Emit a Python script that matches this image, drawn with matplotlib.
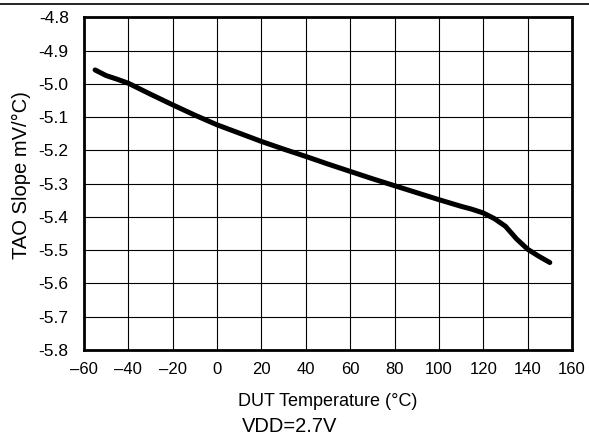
import matplotlib
matplotlib.use("Agg")
import matplotlib.pyplot as plt
from matplotlib.lines import Line2D

plt.rcParams['font.family'] = ['Liberation Sans', 'DejaVu Sans']

temp = [-55, -50, -45, -40, -30, -20, -10, 0, 10, 20, 30, 40, 50, 60, 70, 80,
        90, 100, 110, 115, 120, 125, 130, 135, 140, 145, 150]
slope = [-4.958, -4.975, -4.986, -4.998, -5.031, -5.063, -5.094, -5.123, -5.148,
         -5.173, -5.196, -5.218, -5.241, -5.263, -5.285, -5.306, -5.327, -5.348,
         -5.368, -5.377, -5.388, -5.405, -5.428, -5.466, -5.497, -5.518, -5.537]

xticks = [-60, -40, -20, 0, 20, 40, 60, 80, 100, 120, 140, 160]
xticklabels = ['\u201360', '\u201340', '\u201320', '0', '20', '40', '60', '80',
               '100', '120', '140', '160']
yticks = [-4.8, -4.9, -5.0, -5.1, -5.2, -5.3, -5.4, -5.5, -5.6, -5.7, -5.8]
yticklabels = ['-4.8', '-4.9', '-5.0', '-5.1', '-5.2', '-5.3', '-5.4', '-5.5',
               '-5.6', '-5.7', '-5.8']

fig = plt.figure(figsize=(5.89, 4.38), dpi=100)
ax = fig.add_axes([84 / 589, 1 - 350 / 438, (572 - 84) / 589, (350 - 17.4) / 438])

ax.plot(temp, slope, color='black', lw=3.6, solid_capstyle='round',
        solid_joinstyle='round', zorder=3)

ax.set_xlim(-60, 160)
ax.set_ylim(-5.8, -4.8)
ax.set_xticks(xticks)
ax.set_xticklabels(xticklabels, fontsize=12)
ax.set_yticks(yticks)
ax.set_yticklabels(yticklabels, fontsize=12.5)
ax.tick_params(axis='both', length=0)
ax.tick_params(axis='x', pad=9)
ax.tick_params(axis='y', pad=11)
ax.grid(True, color='black', lw=0.8)
ax.set_axisbelow(True)
for s in ax.spines.values():
    s.set_linewidth(2)

ax.set_xlabel('DUT Temperature (\u00b0C)', fontsize=13)
ax.set_ylabel('TAO Slope mV/\u00b0C)', fontsize=14.5)
ax.xaxis.set_label_coords(0.5, -(402 - 350) / (350 - 17.4), transform=ax.transAxes)
ax.xaxis.label.set_va('center')
ax.yaxis.set_label_coords(-(84 - 21) / (572 - 84), 0.5 + 9 / 332.6, transform=ax.transAxes)
ax.yaxis.label.set_va('center')

fig.text(290 / 589, 1 - 427 / 438, 'VDD=2.7V', fontsize=14.5, ha='center', va='center')
fig.add_artist(Line2D([0, 1], [1 - 4 / 438, 1 - 4 / 438], color='black', lw=1.2,
                      transform=fig.transFigure))

fig.savefig('out.png', dpi=100)
